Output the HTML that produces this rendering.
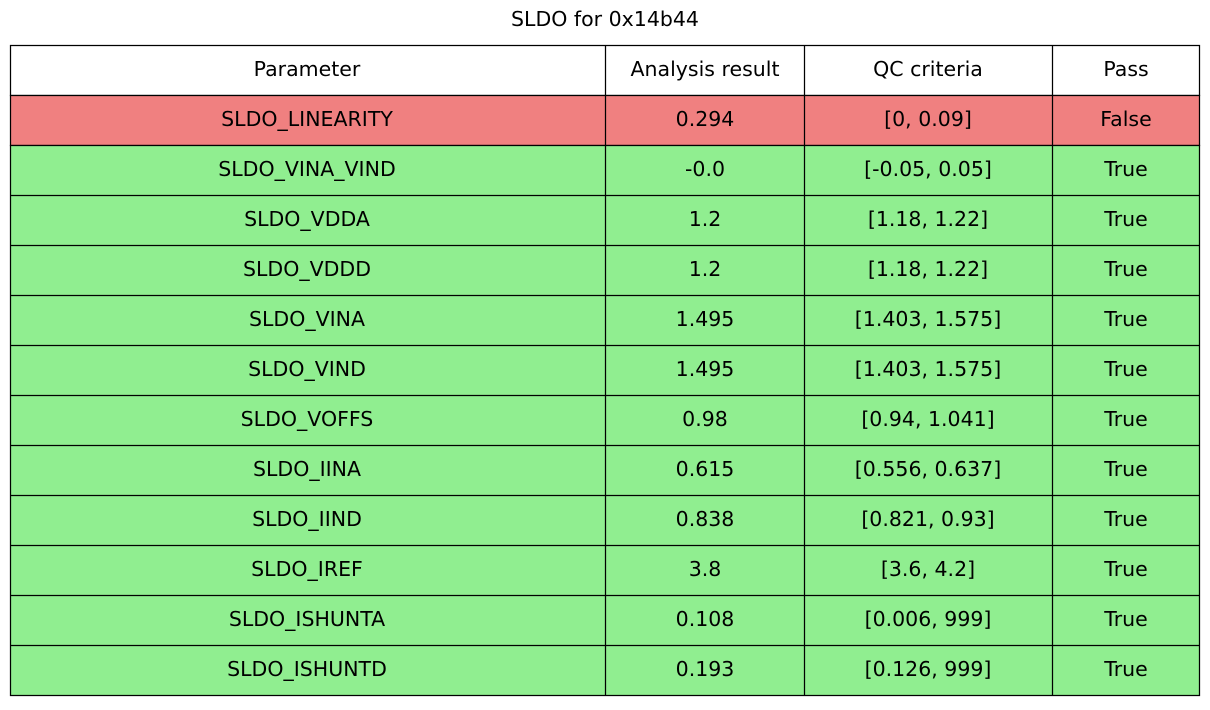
<!DOCTYPE html>
<html><head><meta charset="utf-8"><style>
html,body{margin:0;padding:0;background:#fff;}
svg text{font-family:"DejaVu Sans","Liberation Sans",sans-serif;font-size:20.5px;fill:#000;}
</style></head><body>
<svg width="1210" height="705" xmlns="http://www.w3.org/2000/svg">
<text x="605" y="26" text-anchor="middle">SLDO for 0x14b44</text>
<rect x="10.5" y="45.5" width="1189" height="50" fill="#fff" stroke="#000" stroke-width="1.25"/>
<rect x="10.5" y="95.5" width="1189" height="50" fill="#f08080" stroke="#000" stroke-width="1.25"/>
<rect x="10.5" y="145.5" width="1189" height="550" fill="#90ee90" stroke="#000" stroke-width="1.25"/>
<g stroke="#000" stroke-width="1.25">
<line x1="10" y1="195.5" x2="1200" y2="195.5"/><line x1="10" y1="245.5" x2="1200" y2="245.5"/>
<line x1="10" y1="295.5" x2="1200" y2="295.5"/><line x1="10" y1="345.5" x2="1200" y2="345.5"/>
<line x1="10" y1="395.5" x2="1200" y2="395.5"/><line x1="10" y1="445.5" x2="1200" y2="445.5"/>
<line x1="10" y1="495.5" x2="1200" y2="495.5"/><line x1="10" y1="545.5" x2="1200" y2="545.5"/>
<line x1="10" y1="595.5" x2="1200" y2="595.5"/><line x1="10" y1="645.5" x2="1200" y2="645.5"/>
<line x1="605.5" y1="45" x2="605.5" y2="695"/><line x1="804.5" y1="45" x2="804.5" y2="695"/>
<line x1="1052.5" y1="45" x2="1052.5" y2="695"/>
</g>
<g text-anchor="middle">
<text x="307" y="76">Parameter</text><text x="705" y="76">Analysis result</text><text x="928" y="76">QC criteria</text><text x="1126" y="76">Pass</text>
<text x="307" y="126">SLDO_LINEARITY</text><text x="705" y="126">0.294</text><text x="928" y="126">[0, 0.09]</text><text x="1126" y="126">False</text>
<text x="307" y="176">SLDO_VINA_VIND</text><text x="705" y="176">-0.0</text><text x="928" y="176">[-0.05, 0.05]</text><text x="1126" y="176">True</text>
<text x="307" y="226">SLDO_VDDA</text><text x="705" y="226">1.2</text><text x="928" y="226">[1.18, 1.22]</text><text x="1126" y="226">True</text>
<text x="307" y="276">SLDO_VDDD</text><text x="705" y="276">1.2</text><text x="928" y="276">[1.18, 1.22]</text><text x="1126" y="276">True</text>
<text x="307" y="326">SLDO_VINA</text><text x="705" y="326">1.495</text><text x="928" y="326">[1.403, 1.575]</text><text x="1126" y="326">True</text>
<text x="307" y="376">SLDO_VIND</text><text x="705" y="376">1.495</text><text x="928" y="376">[1.403, 1.575]</text><text x="1126" y="376">True</text>
<text x="307" y="426">SLDO_VOFFS</text><text x="705" y="426">0.98</text><text x="928" y="426">[0.94, 1.041]</text><text x="1126" y="426">True</text>
<text x="307" y="476">SLDO_IINA</text><text x="705" y="476">0.615</text><text x="928" y="476">[0.556, 0.637]</text><text x="1126" y="476">True</text>
<text x="307" y="526">SLDO_IIND</text><text x="705" y="526">0.838</text><text x="928" y="526">[0.821, 0.93]</text><text x="1126" y="526">True</text>
<text x="307" y="576">SLDO_IREF</text><text x="705" y="576">3.8</text><text x="928" y="576">[3.6, 4.2]</text><text x="1126" y="576">True</text>
<text x="307" y="626">SLDO_ISHUNTA</text><text x="705" y="626">0.108</text><text x="928" y="626">[0.006, 999]</text><text x="1126" y="626">True</text>
<text x="307" y="676">SLDO_ISHUNTD</text><text x="705" y="676">0.193</text><text x="928" y="676">[0.126, 999]</text><text x="1126" y="676">True</text>
</g>
</svg>
</body></html>
